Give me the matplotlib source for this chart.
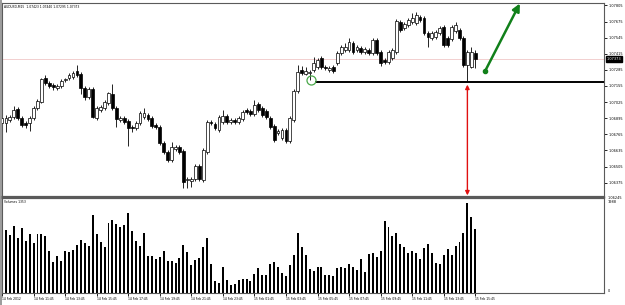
import numpy as np
import matplotlib.pyplot as plt
from matplotlib.lines import Line2D
from matplotlib import transforms

plt.rcParams['font.family'] = ['DejaVu Sans']
plt.rcParams['font.stretch'] = 'condensed'

# AUDUSD M15, 14 Feb 2012 09:45 .. 15 Feb 15:45
opens = [1.06856, 1.06856, 1.06881, 1.06905, 1.06969, 1.06897, 1.06856, 1.06856, 1.06897, 1.06977,
         1.07026, 1.07220, 1.07179, 1.07163, 1.07139, 1.07155, 1.07203, 1.07220, 1.07228, 1.07276,
         1.07252, 1.07139, 1.07066, 1.07131, 1.06897, 1.06961, 1.06977, 1.07018, 1.07090, 1.06977,
         1.06881, 1.06897, 1.06873, 1.06824, 1.06816, 1.06856, 1.06905, 1.06921, 1.06897, 1.06840,
         1.06824, 1.06695, 1.06622, 1.06558, 1.06647, 1.06663, 1.06630, 1.06396, 1.06388, 1.06404,
         1.06509, 1.06396, 1.06622, 1.06864, 1.06848, 1.06800, 1.06864, 1.06913, 1.06864, 1.06881,
         1.06864, 1.06889, 1.06961, 1.06953, 1.06929, 1.07010, 1.06977, 1.06953, 1.06897, 1.06832,
         1.06776, 1.06735, 1.06800, 1.06711, 1.06881, 1.07115, 1.07284, 1.07252, 1.07260, 1.07284,
         1.07308, 1.07381, 1.07308, 1.07284, 1.07308, 1.07341, 1.07421, 1.07445, 1.07445, 1.07502,
         1.07445, 1.07462, 1.07429, 1.07445, 1.07421, 1.07526, 1.07429, 1.07365, 1.07349, 1.07381,
         1.07429, 1.07671, 1.07623, 1.07647, 1.07671, 1.07663, 1.07712, 1.07704, 1.07583, 1.07542,
         1.07550, 1.07583, 1.07631, 1.07542, 1.07534, 1.07599, 1.07607, 1.07542, 1.07324, 1.07308,
         1.07421]
highs = [1.06913, 1.06921, 1.06921, 1.06994, 1.06986, 1.06913, 1.06873, 1.06913, 1.06994, 1.07050,
         1.07220, 1.07244, 1.07195, 1.07179, 1.07171, 1.07211, 1.07220, 1.07260, 1.07276, 1.07324,
         1.07268, 1.07155, 1.07147, 1.07147, 1.06994, 1.07002, 1.07042, 1.07107, 1.07171, 1.06994,
         1.06913, 1.06913, 1.06889, 1.06840, 1.06873, 1.06953, 1.06977, 1.06937, 1.06913, 1.06856,
         1.06840, 1.06711, 1.06638, 1.06703, 1.06679, 1.06679, 1.06647, 1.06421, 1.06421, 1.06526,
         1.06526, 1.06655, 1.06881, 1.06881, 1.06864, 1.06921, 1.06961, 1.06929, 1.06897, 1.06897,
         1.06913, 1.06961, 1.06977, 1.06969, 1.07042, 1.07026, 1.06994, 1.06969, 1.06913, 1.06848,
         1.06808, 1.06816, 1.06816, 1.06913, 1.07131, 1.07324, 1.07316, 1.07308, 1.07284, 1.07389,
         1.07381, 1.07397, 1.07324, 1.07316, 1.07324, 1.07437, 1.07486, 1.07502, 1.07542, 1.07518,
         1.07486, 1.07478, 1.07470, 1.07462, 1.07542, 1.07542, 1.07445, 1.07381, 1.07445, 1.07462,
         1.07696, 1.07688, 1.07671, 1.07704, 1.07744, 1.07752, 1.07728, 1.07720, 1.07599, 1.07599,
         1.07607, 1.07639, 1.07647, 1.07558, 1.07647, 1.07671, 1.07623, 1.07558, 1.07445, 1.07470,
         1.07445]
lows = [1.06824, 1.06784, 1.06864, 1.06889, 1.06881, 1.06824, 1.06816, 1.06792, 1.06881, 1.06961,
        1.07018, 1.07163, 1.07139, 1.07123, 1.07123, 1.07139, 1.07187, 1.07203, 1.07211, 1.07228,
        1.07090, 1.07042, 1.07050, 1.06897, 1.06881, 1.06945, 1.06961, 1.07002, 1.06961, 1.06824,
        1.06864, 1.06848, 1.06671, 1.06784, 1.06800, 1.06840, 1.06889, 1.06873, 1.06816, 1.06808,
        1.06679, 1.06606, 1.06542, 1.06542, 1.06630, 1.06606, 1.06332, 1.06332, 1.06340, 1.06388,
        1.06388, 1.06380, 1.06606, 1.06840, 1.06800, 1.06784, 1.06848, 1.06848, 1.06848, 1.06848,
        1.06848, 1.06873, 1.06929, 1.06913, 1.06913, 1.06945, 1.06905, 1.06889, 1.06808, 1.06703,
        1.06760, 1.06719, 1.06695, 1.06695, 1.06864, 1.07098, 1.07244, 1.07244, 1.07203, 1.07268,
        1.07292, 1.07292, 1.07284, 1.07268, 1.07260, 1.07324, 1.07405, 1.07429, 1.07429, 1.07413,
        1.07429, 1.07413, 1.07413, 1.07405, 1.07405, 1.07405, 1.07316, 1.07333, 1.07333, 1.07365,
        1.07413, 1.07591, 1.07607, 1.07631, 1.07655, 1.07647, 1.07671, 1.07567, 1.07470, 1.07526,
        1.07534, 1.07567, 1.07470, 1.07470, 1.07518, 1.07583, 1.07526, 1.07308, 1.07187, 1.07300,
        1.07300]
closes = [1.06897, 1.06897, 1.06905, 1.06961, 1.06897, 1.06840, 1.06840, 1.06897, 1.06977, 1.07034,
          1.07211, 1.07179, 1.07155, 1.07147, 1.07155, 1.07195, 1.07211, 1.07244, 1.07260, 1.07244,
          1.07139, 1.07066, 1.07131, 1.06905, 1.06977, 1.06986, 1.07026, 1.07098, 1.06977, 1.06889,
          1.06897, 1.06864, 1.06816, 1.06816, 1.06856, 1.06937, 1.06937, 1.06889, 1.06832, 1.06824,
          1.06695, 1.06622, 1.06558, 1.06663, 1.06663, 1.06622, 1.06380, 1.06404, 1.06404, 1.06509,
          1.06404, 1.06638, 1.06864, 1.06856, 1.06816, 1.06905, 1.06913, 1.06864, 1.06881, 1.06864,
          1.06897, 1.06945, 1.06945, 1.06929, 1.07002, 1.06961, 1.06921, 1.06905, 1.06824, 1.06719,
          1.06792, 1.06800, 1.06711, 1.06897, 1.07115, 1.07268, 1.07260, 1.07276, 1.07268, 1.07341,
          1.07365, 1.07308, 1.07300, 1.07300, 1.07276, 1.07421, 1.07470, 1.07470, 1.07510, 1.07429,
          1.07470, 1.07429, 1.07454, 1.07421, 1.07526, 1.07421, 1.07341, 1.07349, 1.07429, 1.07445,
          1.07680, 1.07607, 1.07655, 1.07688, 1.07704, 1.07728, 1.07688, 1.07583, 1.07550, 1.07583,
          1.07591, 1.07623, 1.07486, 1.07486, 1.07631, 1.07647, 1.07542, 1.07324, 1.07429, 1.07429,
          1.07373]
volumes = [852, 1332, 1227, 1417, 1170, 1368, 1100, 1248, 1051, 1248,
           1248, 1206, 888, 662, 783, 677, 888, 861, 909, 1015,
           1121, 1064, 994, 1650, 1248, 1072, 979, 1474, 1544, 1459,
           1390, 1438, 1686, 1318, 1100, 1000, 1263, 783, 783, 713,
           755, 895, 677, 677, 628, 734, 1015, 873, 592, 698,
           740, 979, 1157, 613, 254, 205, 556, 275, 169, 190,
           275, 296, 296, 260, 396, 535, 381, 381, 613, 662,
           556, 417, 366, 592, 804, 1275, 967, 804, 501, 465,
           556, 556, 381, 381, 360, 535, 556, 522, 613, 544,
           486, 719, 450, 825, 840, 755, 888, 1523, 1390, 1212,
           1263, 1030, 967, 840, 895, 840, 719, 958, 1030, 840,
           628, 613, 804, 924, 804, 1000, 1085, 1263, 1897, 1601,
           1353]

price_ticks = [1.07805, 1.07675, 1.07545, 1.07415, 1.07285, 1.07155, 1.07025,
               1.06895, 1.06765, 1.06635, 1.06505, 1.06375]
time_labels = ['14 Feb 2012', '14 Feb 11:45', '14 Feb 13:45', '14 Feb 15:45', '14 Feb 17:45',
               '14 Feb 19:45', '14 Feb 21:45', '14 Feb 23:45', '15 Feb 01:45', '15 Feb 03:45',
               '15 Feb 05:45', '15 Feb 07:45', '15 Feb 09:45', '15 Feb 11:45', '15 Feb 13:45',
               '15 Feb 15:45']
bid = 1.07373
support = 1.07187

o = np.array(opens); h = np.array(highs); l = np.array(lows); c = np.array(closes)
x = np.arange(len(o))
up = c >= o

fs_axis = 2.8     # price scale labels
fs_small = 2.4    # title, time scale, volume caption

fig = plt.figure(figsize=(6.25, 3.05), dpi=100)
W, H = 625.0, 305.0
ax = fig.add_axes([2 / W, 1 - 196.5 / H, 602 / W, 193.5 / H])
axv = fig.add_axes([2 / W, 1 - 293 / H, 602 / W, 95.5 / H], sharex=ax)

frame = '#5a5a5a'
for a in (ax, axv):
    for s in a.spines.values():
        s.set_color(frame)
        s.set_linewidth(0.8)
    a.yaxis.tick_right()
    a.tick_params(axis='y', length=2, width=0.6, pad=1, labelsize=fs_axis, colors='black')
ax.spines['bottom'].set_linewidth(1.6)
axv.spines['top'].set_linewidth(1.6)

# candles
ax.vlines(x, l, h, color='black', lw=0.6, zorder=2)
ax.bar(x, np.abs(c - o), bottom=np.minimum(o, c), width=0.72,
       color=np.where(up, 'white', 'black'), edgecolor='black', linewidth=0.5, zorder=3)
ax.axhline(bid, color='#f0c8c8', lw=0.6, zorder=1)

ax.set_xlim(0, 602 / 3.944)
ax.set_ylim(1.06263, 1.07825)
ax.set_yticks(price_ticks)
ax.set_yticklabels([f'{t:.5f}' for t in price_ticks])
ax.tick_params(axis='x', which='both', bottom=False, labelbottom=False)
bt = transforms.blended_transform_factory(ax.transAxes, ax.transData)
ax.text(1.006, 1.06250, '1.06245', transform=bt, fontsize=fs_axis, va='center', ha='left')
ax.text(1.004, bid, '1.07373', transform=bt, fontsize=fs_axis, va='center', ha='left',
        color='white', bbox=dict(boxstyle='square,pad=0.2', fc='black', ec='black'))
ax.text(0.004, 0.99, 'AUDUSD,M15  1.07423 1.07440 1.07295 1.07373', transform=ax.transAxes,
        fontsize=fs_small, va='top', ha='left')

# annotations
ax.hlines(support, 79.4, 602 / 3.944, color='black', lw=1.4, zorder=4)
ax.plot(78.3, 1.07203, 'o', mfc='none', mec='#4aa84a', ms=6.5, mew=0.9, zorder=5)
ax.annotate('', xy=(118, 1.07166), xytext=(118, 1.06272),
            arrowprops=dict(arrowstyle='<|-|>', color='#e01010', lw=1.0, mutation_scale=6,
                            shrinkA=0, shrinkB=0), zorder=6)
ax.annotate('', xy=(131.3, 1.07821), xytext=(122.5, 1.07276),
            arrowprops=dict(arrowstyle='-|>', color='#11801a', lw=1.8, mutation_scale=11,
                            shrinkA=0, shrinkB=0), zorder=6)
ax.plot(122.5, 1.07276, 'o', color='#11801a', ms=3, zorder=7)

# volumes
axv.bar(x, volumes, width=0.5, color='black', zorder=2)
axv.set_ylim(0, 2020)
axv.set_yticks([])
axv.tick_params(axis='y', right=False)
vt = transforms.blended_transform_factory(axv.transAxes, axv.transData)
axv.text(1.006, 1975, '1988', transform=vt, fontsize=fs_axis, va='top', ha='left')
axv.text(1.006, 0, '0', transform=vt, fontsize=fs_axis, va='bottom', ha='left')
axv.text(0.004, 0.97, 'Volumes 1353', transform=axv.transAxes, fontsize=fs_small, va='top', ha='left')

axv.set_xticks(np.arange(0, 121, 8))
axv.set_xticklabels(time_labels)
axv.tick_params(axis='x', length=2, width=0.6, pad=1, labelsize=fs_small, colors='black')
for lab in axv.get_xticklabels():
    lab.set_ha('left')

fig.add_artist(Line2D([0.8 / W, 0.8 / W], [0, 1], color='#8a8a8a', lw=1.2))

fig.savefig('out.png', dpi=100)
